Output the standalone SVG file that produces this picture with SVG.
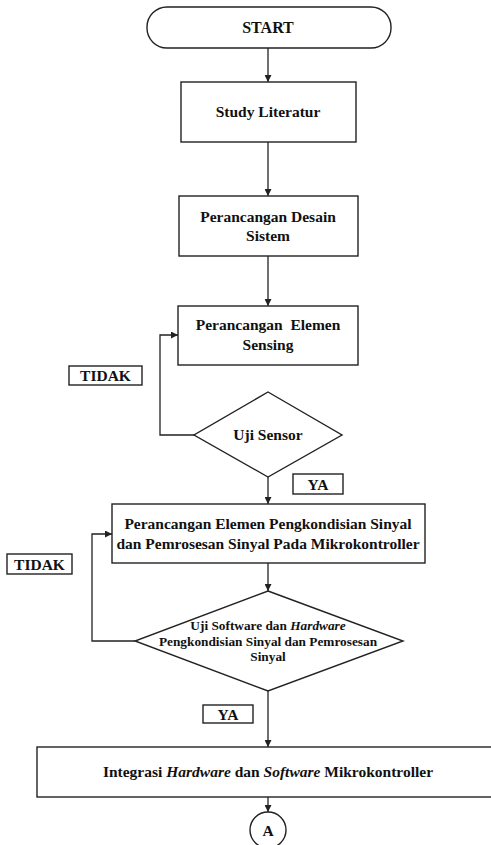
<svg xmlns="http://www.w3.org/2000/svg" width="491" height="845" viewBox="0 0 491 845">
<defs>
<style>
.s{fill:#fff;stroke:#222;stroke-width:1.4}
.t{font-family:"Liberation Serif","Times New Roman",serif;font-weight:bold;fill:#111;text-anchor:middle;font-size:15.5px}
.d{font-size:13.3px}
.c{fill:none;stroke:#222;stroke-width:1.3}
</style>
<marker id="ah" viewBox="0 0 10 10" refX="10" refY="5" markerWidth="7" markerHeight="7" orient="auto" markerUnits="userSpaceOnUse">
<path d="M0,0 L10,5 L0,10 Z" fill="#222"/>
</marker>
</defs>
<rect width="491" height="845" fill="#fff"/>
<g id="connectors">
<line class="c" x1="268" y1="48" x2="268" y2="82" marker-end="url(#ah)"/>
<line class="c" x1="268" y1="142" x2="268" y2="196" marker-end="url(#ah)"/>
<line class="c" x1="268" y1="256" x2="268" y2="306" marker-end="url(#ah)"/>
<polyline class="c" points="194,435 160,435 160,335 178,335" marker-end="url(#ah)"/>
<line class="c" x1="268" y1="477" x2="268" y2="504" marker-end="url(#ah)"/>
<line class="c" x1="268" y1="563" x2="268" y2="591" marker-end="url(#ah)"/>
<polyline class="c" points="135,641 92,641 92,534 112,534" marker-end="url(#ah)"/>
<line class="c" x1="268" y1="691" x2="268" y2="747" marker-end="url(#ah)"/>
<line class="c" x1="268" y1="797" x2="268" y2="812" marker-end="url(#ah)"/>
</g>
<g id="start">
<rect class="s" x="147" y="7" width="244" height="41" rx="20" ry="20"/>
<text class="t" x="268" y="33" style="font-size:16px">START</text>
</g>
<g id="study">
<rect class="s" x="181" y="82" width="175" height="60"/>
<text class="t" x="268" y="117">Study Literatur</text>
</g>
<g id="desain">
<rect class="s" x="179" y="196" width="179" height="60"/>
<text class="t" x="268" y="222">Perancangan Desain</text>
<text class="t" x="268" y="241">Sistem</text>
</g>
<g id="sensing">
<rect class="s" x="178" y="306" width="180" height="59"/>
<text class="t" x="268" y="330" style="white-space:pre">Perancangan  Elemen</text>
<text class="t" x="268" y="350">Sensing</text>
</g>
<g id="label-tidak1">
<rect class="s" x="69" y="366" width="73" height="19"/>
<text class="t" x="105.5" y="381">TIDAK</text>
</g>
<g id="uji-sensor">
<polygon class="s" points="268,392 342,435 268,477 194,435"/>
<text class="t" x="268" y="440">Uji Sensor</text>
</g>
<g id="label-ya1">
<rect class="s" x="293" y="474" width="50" height="20"/>
<text class="t" x="318" y="489.5">YA</text>
</g>
<g id="pengkondisian">
<rect class="s" x="112" y="504" width="313" height="59"/>
<text class="t" x="268" y="529">Perancangan Elemen Pengkondisian Sinyal</text>
<text class="t" x="268" y="549">dan Pemrosesan Sinyal Pada Mikrokontroller</text>
</g>
<g id="label-tidak2">
<rect class="s" x="7" y="554" width="65" height="20"/>
<text class="t" x="39.5" y="569.5">TIDAK</text>
</g>
<g id="uji-software">
<polygon class="s" points="268,591 403,641 268,691 135,641"/>
<text class="t d" x="268" y="630">Uji Software dan <tspan font-style="italic">Hardware</tspan></text>
<text class="t d" x="268" y="645.5">Pengkondisian Sinyal dan Pemrosesan</text>
<text class="t d" x="268" y="661">Sinyal</text>
</g>
<g id="label-ya2">
<rect class="s" x="203" y="705" width="50" height="18"/>
<text class="t" x="228" y="719.5">YA</text>
</g>
<g id="integrasi">
<rect class="s" x="37" y="747" width="460" height="50"/>
<text class="t" x="268" y="777">Integrasi <tspan font-style="italic">Hardware</tspan> dan <tspan font-style="italic">Software</tspan> Mikrokontroller</text>
</g>
<g id="connector-a">
<circle class="s" cx="268" cy="830" r="18"/>
<text class="t" x="268" y="835.5">A</text>
</g>
</svg>
